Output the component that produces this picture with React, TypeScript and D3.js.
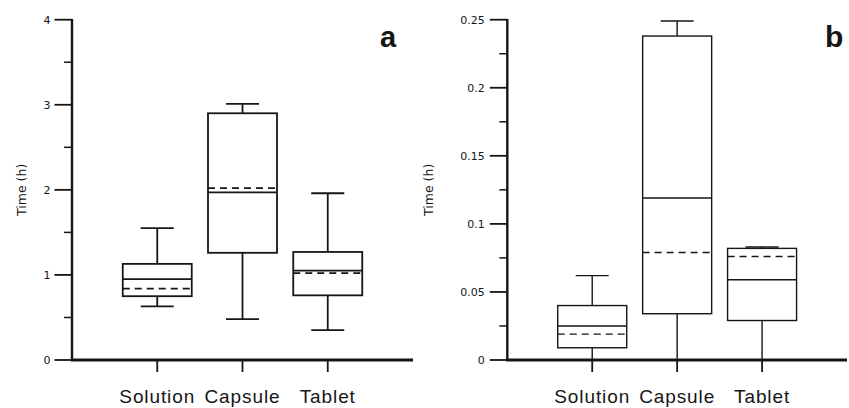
import React from "react";
import * as d3 from "d3";

// Categories shared by both panels
const categories = ["Solution", "Capsule", "Tablet"];

// Panel a: box statistics (h)
const aMin = [0.63, 0.48, 0.35];
const aQ1 = [0.75, 1.26, 0.76];
const aMedian = [0.95, 1.97, 1.05];
const aMean = [0.84, 2.02, 1.02];
const aQ3 = [1.13, 2.9, 1.27];
const aMax = [1.55, 3.01, 1.96];
const aTicks = [0, 1, 2, 3, 4];
const aTickLabels = ["0", "1", "2", "3", "4"];
const aMinorTicks = [0.5, 1.5, 2.5, 3.5];

// Panel b: box statistics (h)
const bMin = [0, 0, 0];
const bQ1 = [0.009, 0.034, 0.029];
const bMedian = [0.025, 0.119, 0.059];
const bMean = [0.019, 0.079, 0.076];
const bQ3 = [0.04, 0.238, 0.082];
const bMax = [0.062, 0.249, 0.083];
const bTicks = [0, 0.05, 0.1, 0.15, 0.2, 0.25];
const bTickLabels = ["0", "0.05", "0.1", "0.15", "0.2", "0.25"];
const bMinorTicks = [0.025, 0.075, 0.125, 0.175, 0.225];

const INK = "#161616";

type PanelProps = {
  x0: number;
  x1: number;
  yMax: number;
  min: number[];
  q1: number[];
  median: number[];
  mean: number[];
  q3: number[];
  max: number[];
  ticks: number[];
  tickLabels: string[];
  minorTicks: number[];
  letter: string;
  letterX: number;
  letterSize: number;
  titleX: number;
  boxStroke: number;
  labelGap: number;
};

function Panel(p: PanelProps) {
  const yTop = 19.7;
  const yBottom = 360;
  const y = d3.scaleLinear().domain([0, p.yMax]).range([yBottom, yTop]);
  const x = d3.scalePoint<string>().domain(categories).range([p.x0, p.x1]).padding(1);
  const boxW = 69;
  const capW = 33;
  const majorLen = 17.5;
  const minorLen = 8;

  return (
    <g>
      {/* boxes */}
      {categories.map((c, i) => {
        const cx = x(c) as number;
        return (
          <g key={c} stroke={INK} fill="none" strokeWidth={p.boxStroke}>
            <line x1={cx} x2={cx} y1={y(p.q3[i])} y2={y(p.max[i])} />
            <line x1={cx} x2={cx} y1={y(p.q1[i])} y2={y(p.min[i])} />
            <line x1={cx - capW / 2} x2={cx + capW / 2} y1={y(p.max[i])} y2={y(p.max[i])} />
            <line x1={cx - capW / 2} x2={cx + capW / 2} y1={y(p.min[i])} y2={y(p.min[i])} />
            <rect
              x={cx - boxW / 2}
              y={y(p.q3[i])}
              width={boxW}
              height={y(p.q1[i]) - y(p.q3[i])}
            />
            <line x1={cx - boxW / 2} x2={cx + boxW / 2} y1={y(p.median[i])} y2={y(p.median[i])} />
            <line
              x1={cx - boxW / 2}
              x2={cx + boxW / 2}
              y1={y(p.mean[i])}
              y2={y(p.mean[i])}
              strokeDasharray="7,5"
            />
          </g>
        );
      })}

      {/* y axis */}
      <line x1={p.x0} x2={p.x0} y1={yTop - 0.8} y2={yBottom} stroke={INK} strokeWidth={2.4} />
      {p.ticks.map((t, i) => (
        <g key={"t" + t}>
          <line x1={p.x0 - majorLen} x2={p.x0} y1={y(t)} y2={y(t)} stroke={INK} strokeWidth={1.8} />
          <text
            x={p.x0 - majorLen - p.labelGap}
            y={y(t)}
            dy="0.35em"
            textAnchor="end"
            fontFamily="DejaVu Sans, sans-serif"
            fontSize={11}
            fill={INK}
          >
            {p.tickLabels[i]}
          </text>
        </g>
      ))}
      {p.minorTicks.map((t) => (
        <line key={"m" + t} x1={p.x0 - minorLen} x2={p.x0} y1={y(t)} y2={y(t)} stroke={INK} strokeWidth={1.5} />
      ))}
      <text
        transform={`translate(${p.titleX},${(yTop + yBottom) / 2}) rotate(-90)`}
        textAnchor="middle"
        dy="0.35em"
        fontFamily="DejaVu Sans, sans-serif"
        fontSize={12.5}
        fill={INK}
      >
        Time (h)
      </text>

      {/* x axis */}
      <line x1={p.x0 - 1.2} x2={p.x1} y1={yBottom} y2={yBottom} stroke={INK} strokeWidth={2.8} />
      {categories.map((c) => {
        const cx = x(c) as number;
        return (
          <g key={"x" + c}>
            <line x1={cx} x2={cx} y1={yBottom} y2={yBottom + 12} stroke={INK} strokeWidth={1.8} />
            <text
              x={cx}
              y={403}
              textAnchor="middle"
              fontFamily="Liberation Sans, Arial, sans-serif"
              fontSize={19}
              letterSpacing={0.9}
              fill={INK}
            >
              {c}
            </text>
          </g>
        );
      })}

      {/* panel letter */}
      <text
        x={p.letterX}
        y={47}
        fontFamily="Liberation Sans, Arial, sans-serif"
        fontWeight="bold"
        fontSize={p.letterSize}
        fill={INK}
      >
        {p.letter}
      </text>
    </g>
  );
}

export default function App() {
  return (
    <svg
      width={849}
      height={408}
      style={{ position: "absolute", left: 0, top: 0, background: "#fff" }}
    >
      <rect width={849} height={408} fill="#fff" />
      <Panel
        x0={72}
        x1={413}
        yMax={4}
        min={aMin}
        q1={aQ1}
        median={aMedian}
        mean={aMean}
        q3={aQ3}
        max={aMax}
        ticks={aTicks}
        tickLabels={aTickLabels}
        minorTicks={aMinorTicks}
        letter="a"
        letterX={380}
        letterSize={29}
        titleX={21.5}
        boxStroke={1.8}
        labelGap={4}
      />
      <Panel
        x0={507.3}
        x1={847}
        yMax={0.25}
        min={bMin}
        q1={bQ1}
        median={bMedian}
        mean={bMean}
        q3={bQ3}
        max={bMax}
        ticks={bTicks}
        tickLabels={bTickLabels}
        minorTicks={bMinorTicks}
        letter="b"
        letterX={825}
        letterSize={30}
        titleX={429}
        boxStroke={1.4}
        labelGap={5}
      />
    </svg>
  );
}
